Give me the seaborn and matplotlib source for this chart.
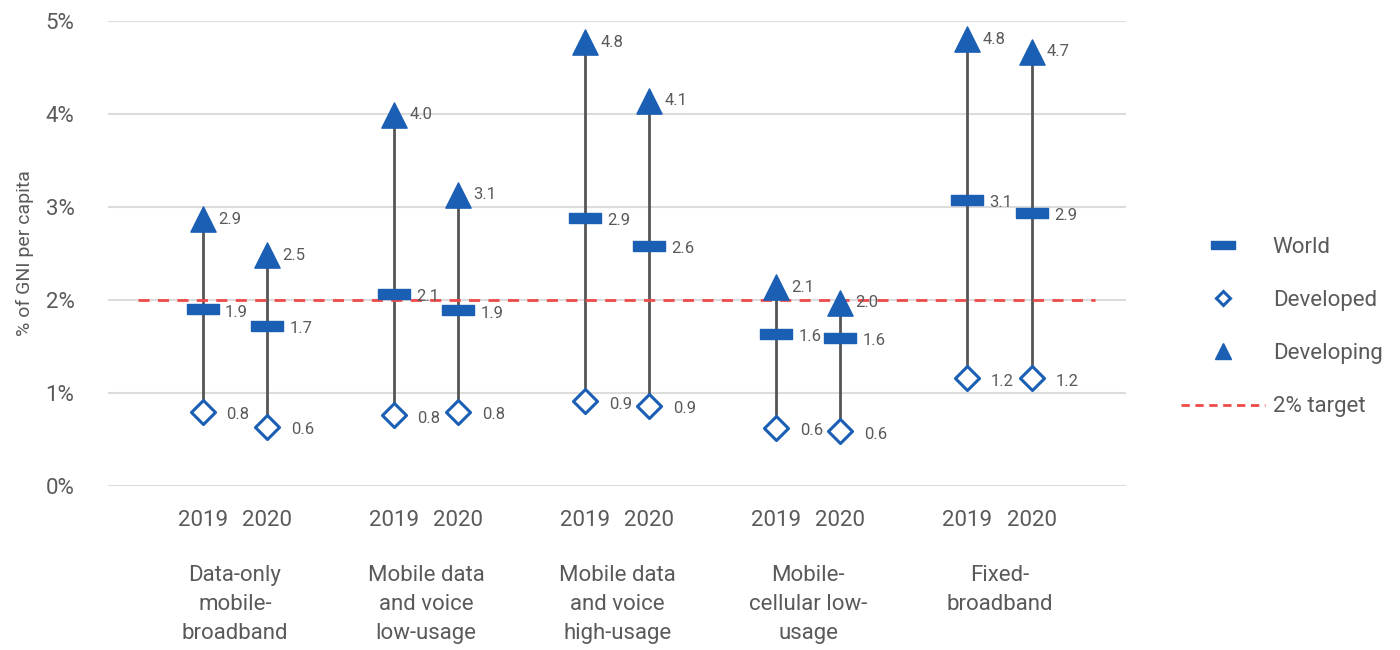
import numpy as np
import pandas as pd
import matplotlib.pyplot as plt
import seaborn as sns
from matplotlib.lines import Line2D

# ============================================================
# Data
# ============================================================
categories = [
    "Data-only\nmobile-\nbroadband",
    "Mobile data\nand voice\nlow-usage",
    "Mobile data\nand voice\nhigh-usage",
    "Mobile-\ncellular low-\nusage",
    "Fixed-\nbroadband",
]
years = ["2019", "2020"]

# order: cat0-2019, cat0-2020, cat1-2019, ...
world = [1.90, 1.72, 2.07, 1.89, 2.88, 2.58, 1.64, 1.59, 3.08, 2.94]
developed = [0.80, 0.64, 0.76, 0.80, 0.91, 0.86, 0.63, 0.59, 1.16, 1.16]
developing = [2.87, 2.48, 3.99, 3.13, 4.77, 4.14, 2.14, 1.97, 4.80, 4.67]
target = 2.0

BLUE = "#1a5fb4"
GREY_TXT = "#5a5a5a"
LINE = "#555555"

# long table: x position per (category, year)
rows = []
for i, cat in enumerate(categories):
    for j, yr in enumerate(years):
        k = 2 * i + j
        rows.append({
            "x": i + (-0.168 if j == 0 else 0.168),
            "category": cat,
            "year": yr,
            "World": world[k],
            "Developed": developed[k],
            "Developing": developing[k],
        })
df = pd.DataFrame(rows)

# ============================================================
# Plot
# ============================================================
sns.set_theme(style="white")
plt.rcParams["font.family"] = ["Roboto", "DejaVu Sans"]

fig = plt.figure(figsize=(14, 6.5), dpi=100)
ax = fig.add_axes([0.077, 0.252, 0.727, 0.716])

# grid
for v in range(6):
    ax.axhline(v, color="#dcdcdc", lw=1.5, zorder=0)

# vertical range lines
ax.vlines(df["x"], df["Developed"], df["Developing"], color=LINE, lw=2, zorder=1)

# 2% target
ax.hlines(target, -0.508, 4.50, colors="#ef4a4a", linestyles=(0, (4, 3)), lw=2, zorder=2)

bar_marker = [(-1, -0.3), (1, -0.3), (1, 0.3), (-1, 0.3), (-1, -0.3)]
sns.scatterplot(data=df, x="x", y="World", marker=bar_marker, s=540,
                color=BLUE, edgecolor=BLUE, linewidth=1, ax=ax, zorder=3, clip_on=False)
sns.scatterplot(data=df, x="x", y="Developed", marker="D", s=150,
                facecolor="white", edgecolor=BLUE, linewidth=2.2, ax=ax, zorder=3, clip_on=False)
sns.scatterplot(data=df, x="x", y="Developing", marker="^", s=330,
                color=BLUE, edgecolor=BLUE, linewidth=1, ax=ax, zorder=3, clip_on=False)

# value labels
for _, r in df.iterrows():
    ax.annotate(f"{r['World']:.1f}", (r["x"], r["World"]), xytext=(16, -2),
                textcoords="offset points", va="center", fontsize=12, color=GREY_TXT)
    ax.annotate(f"{r['Developed']:.1f}", (r["x"], r["Developed"]), xytext=(17, -2),
                textcoords="offset points", va="center", fontsize=12, color=GREY_TXT)
    ax.annotate(f"{r['Developing']:.1f}", (r["x"], r["Developing"]), xytext=(11, 0),
                textcoords="offset points", va="center", fontsize=12, color=GREY_TXT)

ax.set_xlim(-0.665, 4.66)
ax.set_ylim(0, 5)
ax.set_yticks(range(6))
ax.set_yticklabels([f"{v}%" for v in range(6)], fontsize=16, color=GREY_TXT)
ax.set_xticks(df["x"])
ax.set_xticklabels(df["year"], fontsize=16, color=GREY_TXT)
ax.tick_params(axis="x", length=0, pad=17)
ax.tick_params(axis="y", length=0, pad=24)
ax.set_xlabel("")
ax.set_ylabel("% of GNI per capita", fontsize=14, color=GREY_TXT, labelpad=8)
sns.despine(ax=ax, left=True, bottom=True)

# category labels under the year ticks
for i, cat in enumerate(categories):
    ax.text(i, -0.85, cat, ha="center", va="top", fontsize=16, color=GREY_TXT,
            linespacing=1.5, transform=ax.transData, clip_on=False)

# legend
handles = [
    Line2D([], [], marker=bar_marker, color=BLUE, ls="none", markersize=17),
    Line2D([], [], marker="D", markerfacecolor="white", markeredgecolor=BLUE,
           markeredgewidth=2.2, ls="none", markersize=7),
    Line2D([], [], marker="^", color=BLUE, ls="none", markersize=11),
    Line2D([], [], color="#ef4a4a", ls=(0, (3, 2)), lw=2),
]
labels = ["World", "Developed", "Developing", "2% target"]
fig.legend(handles, labels, loc="center left", bbox_to_anchor=(0.829, 0.497),
           frameon=False, fontsize=16, labelcolor=GREY_TXT, handlelength=3.8,
           labelspacing=1.45, handletextpad=0.35)

plt.savefig("out.png", dpi=100)
